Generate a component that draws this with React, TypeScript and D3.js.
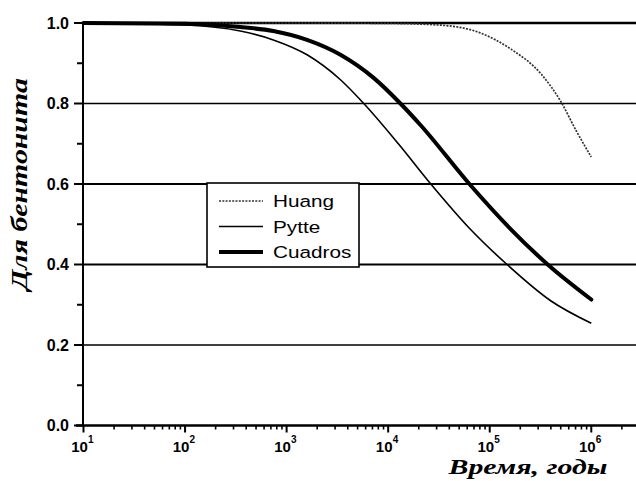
import React from "react";
import { scaleLog, scaleLinear, line, curveMonotoneX } from "d3";

// time, years
const huangT = [10, 1000, 10000, 31600, 81300, 162000, 324000, 501000, 708000, 1000000];
const huangV = [1.0, 1.0, 0.999, 0.995, 0.975, 0.935, 0.872, 0.805, 0.733, 0.667];

const pytteT = [10, 100, 350, 740, 1590, 3390, 5750, 12600, 26300, 63100, 148000, 398000, 1000000];
const pytteV = [1.0, 0.995, 0.98, 0.958, 0.921, 0.859, 0.8, 0.7, 0.6, 0.49, 0.4, 0.31, 0.254];

const cuadrosT = [10, 100, 350, 740, 1590, 3390, 7240, 13200, 20900, 63100, 158000, 372000, 1000000];
const cuadrosV = [1.0, 0.998, 0.99, 0.98, 0.958, 0.921, 0.863, 0.8, 0.746, 0.6, 0.49, 0.4, 0.313];

const xDecades = [1, 2, 3, 4, 5, 6];
const yMajor = [0, 0.2, 0.4, 0.6, 0.8, 1.0];
const yMinor = [0.1, 0.3, 0.5, 0.7, 0.9];
const legendNames = ["Huang", "Pytte", "Cuadros"];

const W = 636;
const H = 481;

export default function App() {
  const x = scaleLog().domain([10, Math.pow(10, 6.46)]).range([83.5, 638]);
  const y = scaleLinear().domain([0, 1]).range([425.5, 23]);

  const mk = (ts: number[], vs: number[]) =>
    line<number>()
      .x((_, i) => x(ts[i]))
      .y((v) => y(v))
      .curve(curveMonotoneX)(vs) ?? "";

  const minorX: number[] = [];
  for (let d = 1; d <= 6; d++) {
    for (let m = 2; m <= 9; m++) {
      const v = m * Math.pow(10, d);
      if (v <= Math.pow(10, 6.46)) minorX.push(v);
    }
  }

  const styles = [
    { stroke: "#333", width: 1.7, dash: "2,1.3" },
    { stroke: "#000", width: 1.6, dash: undefined },
    { stroke: "#000", width: 4, dash: undefined },
  ];

  return (
    <svg
      width={W}
      height={H}
      style={{ position: "absolute", left: 0, top: 0, background: "#fff" }}
      fontFamily="Liberation Sans, Arial, sans-serif"
    >
      {/* grid lines */}
      {yMajor.slice(1).map((v) => (
        <line
          key={v}
          x1={83}
          x2={W}
          y1={y(v)}
          y2={y(v)}
          stroke="#000"
          strokeWidth={v === 1 ? 2.6 : v === 0.6 || v === 0.4 ? 2 : 1.6}
        />
      ))}

      {/* curves */}
      <path d={mk(huangT, huangV)} fill="none" stroke={styles[0].stroke} strokeWidth={styles[0].width} strokeDasharray={styles[0].dash} />
      <path d={mk(pytteT, pytteV)} fill="none" stroke="#000" strokeWidth={1.6} />
      <path d={mk(cuadrosT, cuadrosV)} fill="none" stroke="#000" strokeWidth={4} strokeLinecap="round" />

      {/* axes */}
      <line x1={83} x2={83} y1={y(0)} y2={y(1)} stroke="#000" strokeWidth={2} />
      <line x1={76} x2={W} y1={y(0)} y2={y(0)} stroke="#000" strokeWidth={2.4} />

      {yMajor.map((v) => (
        <g key={v}>
          <line x1={74} x2={83} y1={y(v)} y2={y(v)} stroke="#000" strokeWidth={2} />
          <text x={69} y={y(v)} dy="0.36em" textAnchor="end" fontSize={16} fontWeight="bold">
            {v.toFixed(1)}
          </text>
        </g>
      ))}
      {yMinor.map((v) => (
        <line key={v} x1={77} x2={83} y1={y(v)} y2={y(v)} stroke="#000" strokeWidth={2} />
      ))}

      {xDecades.map((d) => {
        const px = x(Math.pow(10, d));
        return (
          <g key={d}>
            <line x1={px} x2={px} y1={y(0)} y2={y(0) + 7} stroke="#000" strokeWidth={2} />
            <text x={px - 4} y={452} textAnchor="middle" fontSize={15} fontWeight="bold">
              10
            </text>
            <text x={px + 4.5} y={443} textAnchor="start" fontSize={10} fontWeight="bold">
              {d}
            </text>
          </g>
        );
      })}
      {minorX.map((v) => (
        <line key={v} x1={x(v)} x2={x(v)} y1={y(0)} y2={y(0) + 4} stroke="#000" strokeWidth={1.6} />
      ))}

      {/* axis titles */}
      <text
        x={528}
        y={474}
        textAnchor="middle"
        fontFamily="Liberation Serif, serif"
        fontStyle="italic"
        fontWeight="bold"
        fontSize={22}
        textLength={159}
        lengthAdjust="spacingAndGlyphs"
      >
        Время, годы
      </text>
      <text
        transform="translate(27,184) rotate(-90)"
        textAnchor="middle"
        fontFamily="Liberation Serif, serif"
        fontStyle="italic"
        fontWeight="bold"
        fontSize={24}
        textLength={212}
        lengthAdjust="spacingAndGlyphs"
      >
        Для бентонита
      </text>

      {/* legend */}
      <rect x={207} y={183} width={152} height={84} fill="#fff" stroke="#000" strokeWidth={1.6} />
      {legendNames.map((name, i) => {
        const ly = 201 + i * 25.5;
        const s = styles[i];
        return (
          <g key={name}>
            <line x1={219} x2={263} y1={ly} y2={ly} stroke={s.stroke} strokeWidth={s.width} strokeDasharray={s.dash} />
            <text transform={`translate(273,${ly}) scale(1.22,1)`} dy="0.36em" fontSize={17}>
              {name}
            </text>
          </g>
        );
      })}
    </svg>
  );
}
